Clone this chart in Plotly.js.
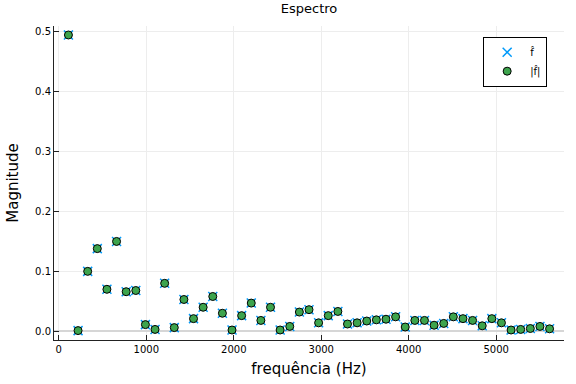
<!DOCTYPE html>
<html>
<head>
<meta charset="utf-8">
<script src="https://cdn.plot.ly/plotly-3.0.1.min.js"></script>
<style>html,body{margin:0;padding:0;background:#fff;}#chart{width:576px;height:384px;}</style>
</head>
<body>
<div id="chart"></div>
<script>
// Frequencies (Hz): multiples of 110 Hz, k = 1..51
const freqs = [110,220,330,440,550,660,770,880,990,1100,1210,1320,1430,1540,1650,1760,1870,1980,2090,2200,2310,2420,2530,2640,2750,2860,2970,3080,3190,3300,3410,3520,3630,3740,3850,3960,4070,4180,4290,4400,4510,4620,4730,4840,4950,5060,5170,5280,5390,5500,5610];
// Magnitude values
const magnitudes = [0.495,0.001,0.100,0.138,0.070,0.150,0.066,0.068,0.011,0.003,0.080,0.006,0.053,0.021,0.040,0.058,0.030,0.002,0.026,0.047,0.018,0.040,0.002,0.008,0.032,0.036,0.014,0.026,0.033,0.012,0.014,0.017,0.019,0.020,0.024,0.007,0.018,0.018,0.010,0.013,0.024,0.021,0.018,0.009,0.021,0.014,0.002,0.003,0.0045,0.008,0.004];
const labelF = 'f\u0302';
const labelAbs = '|f\u0302|';
const xTicks = [0,1000,2000,3000,4000,5000];
const yTicks = [0,0.1,0.2,0.3,0.4,0.5];

const traces = [
  {x: freqs, y: magnitudes, type: 'scatter', mode: 'markers', name: labelF,
   marker: {symbol: 'x-thin-open', size: 9, color: '#009AFA', line: {color: '#009AFA', width: 1.5}}},
  {x: freqs, y: magnitudes, type: 'scatter', mode: 'markers', name: labelAbs,
   marker: {symbol: 'circle', size: 8, color: '#3DA44D', line: {color: '#000000', width: 1}}}
];

const font = 'DejaVu Sans, sans-serif';
const layout = {
  width: 576, height: 384,
  margin: {l: 54, r: 12, t: 26, b: 44},
  paper_bgcolor: '#ffffff', plot_bgcolor: '#ffffff',
  font: {family: font, color: '#000000'},
  title: {text: 'Espectro', font: {family: font, size: 13, color: '#000'}, x: 0.5, xref: 'paper', xanchor: 'center', y: 0.978, yanchor: 'middle'},
  showlegend: true,
  legend: {x: 0.967, xanchor: 'right', y: 0.966, yanchor: 'top', bgcolor: '#ffffff', bordercolor: '#000000', borderwidth: 1,
           font: {family: font, size: 10, color: '#000'}, tracegroupgap: 0, itemwidth: 36},
  xaxis: {
    range: [-55, 5775], tickvals: xTicks, ticktext: xTicks.map(String),
    showgrid: true, gridcolor: '#ededed', gridwidth: 1, zeroline: false,
    showline: true, linecolor: '#222222', linewidth: 1,
    ticks: 'inside', ticklen: 5, tickcolor: '#222222',
    tickfont: {family: font, size: 10, color: '#000'},
    title: {text: 'frequência (Hz)', font: {family: font, size: 15, color: '#000'}, standoff: 9},
    automargin: false
  },
  yaxis: {
    range: [-0.0147, 0.510], tickvals: yTicks, ticktext: yTicks.map(v => v.toFixed(1)),
    showgrid: true, gridcolor: '#ededed', gridwidth: 1,
    zeroline: true, zerolinecolor: '#d6d6d6', zerolinewidth: 2,
    showline: true, linecolor: '#222222', linewidth: 1,
    ticks: 'inside', ticklen: 5, tickcolor: '#222222',
    tickfont: {family: font, size: 10, color: '#000'},
    title: {text: 'Magnitude', font: {family: font, size: 15, color: '#000'}, standoff: 12},
    automargin: false
  }
};

Plotly.newPlot('chart', traces, layout, {displayModeBar: false, staticPlot: true});
</script>
</body>
</html>
